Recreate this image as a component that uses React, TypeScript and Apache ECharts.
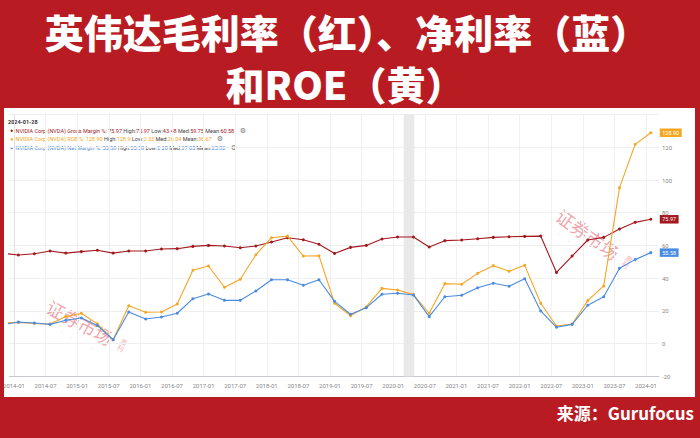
import React, { useEffect, useRef } from 'react';
import * as echarts from 'echarts';

// Fiscal quarter end dates (first point lies just left of the visible range)
const dates = [
  '2013-10-27', '2014-01-26', '2014-04-27', '2014-07-27', '2014-10-26', '2015-01-25', '2015-04-26', '2015-07-26',
  '2015-10-25', '2016-01-31', '2016-05-01', '2016-07-31', '2016-10-30', '2017-01-29', '2017-04-30', '2017-07-30',
  '2017-10-29', '2018-01-28', '2018-04-29', '2018-07-29', '2018-10-28', '2019-01-27', '2019-04-28', '2019-07-28',
  '2019-10-27', '2020-01-26', '2020-04-26', '2020-07-26', '2020-10-25', '2021-01-31', '2021-05-02', '2021-08-01',
  '2021-10-31', '2022-01-30', '2022-05-01', '2022-07-31', '2022-10-30', '2023-01-29', '2023-04-30', '2023-07-30',
  '2023-10-29', '2024-01-28',
];
const grossMargin = [
  55.2, 54.1, 54.9, 56.6, 55.3, 56.2, 57.0, 55.3, 56.6, 56.6, 57.8, 58.0, 59.4, 60.0, 59.6, 58.6,
  59.6, 62.1, 64.7, 63.5, 60.7, 55.1, 58.8, 60.0, 63.9, 65.1, 65.1, 59.0, 62.9, 63.3, 64.1, 64.9,
  65.3, 65.5, 65.7, 43.48, 53.5, 63.3, 64.9, 70.0, 74.1, 75.97,
];
const roe = [
  12.5, 12.9, 12.3, 11.9, 16.5, 18.5, 12.0, 2.33, 23.1, 19.1, 19.3, 24.2, 44.8, 47.4, 34.4, 39.3,
  54.3, 64.7, 65.7, 53.5, 53.7, 24.6, 17.0, 22.5, 33.7, 32.7, 29.9, 18.5, 36.6, 36.2, 42.9, 47.6,
  44.2, 47.8, 24.6, 10.7, 11.9, 26.2, 35.2, 95.3, 121.8, 128.9,
];
const netMargin = [
  11.5, 13.1, 12.5, 11.7, 14.2, 15.6, 11.0, 2.28, 19.3, 15.0, 16.2, 18.5, 27.4, 30.3, 26.4, 26.4,
  32.1, 39.0, 39.0, 35.6, 39.0, 25.8, 17.9, 21.9, 30.1, 30.7, 29.7, 16.4, 28.6, 29.5, 34.1, 36.8,
  35.0, 39.6, 19.9, 9.9, 11.7, 23.4, 28.6, 46.0, 51.3, 55.58,
];
const xTickLabels = [
  '2014-01', '2014-07', '2015-01', '2015-07', '2016-01', '2016-07', '2017-01', '2017-07', '2018-01', '2018-07',
  '2019-01', '2019-07', '2020-01', '2020-07', '2021-01', '2021-07', '2022-01', '2022-07', '2023-01', '2023-07', '2024-01',
];
const recession = ['2020-03-01', '2020-05-01'];

const title1 = '英伟达毛利率（红）、净利率（蓝）';
const title2 = '和ROE（黄）';
const sourceText = '来源：Gurufocus';
const asOf = '2024-01-28';
const seriesNames = ['NVIDIA Corp (NVDA) Gross Margin %', 'NVIDIA Corp (NVDA) ROE %', 'NVIDIA Corp (NVDA) Net Margin %'];
const seriesLast = ['75.97', '128.90', '55.58'];
const seriesHigh = ['75.97', '128.9', '55.58'];
const seriesLow = ['43.48', '2.33', '2.28'];
const seriesMed = ['59.75', '26.04', '27.05'];
const seriesMean = ['60.58', '36.67', '25.82'];

const RED = '#b81c22';
const C_GROSS = '#a3191f';
const C_ROE = '#f5a623';
const C_NET = '#4a8be0';
const colors = [C_GROSS, C_ROE, C_NET];

function toMonths(d: string): number {
  const [y, m, dd] = d.split('-').map(Number);
  return (y - 2014) * 12 + (m - 1) + (dd - 1) / 30;
}

export default function App() {
  const ref = useRef<HTMLDivElement>(null);
  useEffect(() => {
    if (!ref.current) return;
    const chart = echarts.init(ref.current, undefined, { renderer: 'svg' });
    const tickVals = xTickLabels.map((s) => toMonths(s + '-01'));
    const lookup: Record<string, string> = {};
    tickVals.forEach((v, i) => (lookup[String(v)] = xTickLabels[i]));
    const mk = (arr: number[]) => dates.map((d, i) => [toMonths(d), arr[i]]);
    const values = [grossMargin, roe, netMargin];

    const series: any[] = values.map((arr, i) => ({
      type: 'line',
      name: seriesNames[i],
      data: mk(arr),
      symbol: 'circle',
      symbolSize: 3,
      color: colors[i],
      lineStyle: { width: 1.1, color: colors[i] },
      itemStyle: { color: colors[i] },
      z: 3 + i,
      endLabel: {
        show: true,
        formatter: (p: any) => Number(p.value[1]).toFixed(2),
        backgroundColor: colors[i],
        color: '#fff',
        fontSize: 5.5,
        fontFamily: 'Roboto',
        padding: [1.5, 2.5, 1, 2.5],
        distance: 9,
      },
    }));
    series[0].markArea = {
      silent: true,
      itemStyle: { color: '#e9e9e9', opacity: 1 },
      data: [[{ xAxis: toMonths(recession[0]) }, { xAxis: toMonths(recession[1]) }]],
      z: 1,
    };

    const infoRows: any[] = seriesNames.map((n, i) => {
      const y = 130.7 + i * 8.7;
      return [
        { type: 'circle', shape: { cx: 11.7, cy: y, r: 1.2 }, style: { fill: colors[i] } },
        {
          type: 'text',
          x: 15.5,
          y,
          style: {
            text:
              `{c|${n}: ${seriesLast[i]}} {k|High:}{c|${seriesHigh[i]}} {k|Low:}{c|${seriesLow[i]}} ` +
              `{k|Med:}{c|${seriesMed[i]}} {k|Mean:}{c|${seriesMean[i]}}`,
            verticalAlign: 'middle',
            fontSize: 5.5,
            fontFamily: 'Roboto',
            rich: {
              c: { fill: colors[i], fontSize: 5.5, fontFamily: 'Roboto' },
              k: { fill: '#444', fontSize: 5.5, fontFamily: 'Roboto' },
            },
          },
        },
      ];
    }).flat();
    const gearX = [243, 220, 234];
    const gears = gearX.map((gx, i) => ({
      type: 'text',
      x: gx,
      y: 130.7 + i * 8.7,
      style: { text: '⚙', fontSize: 7, fill: '#777', fontFamily: 'DejaVu Sans', verticalAlign: 'middle', align: 'center' },
    }));

    const wm = (x: number, y: number, rot: number) => ({
      type: 'group',
      x,
      y,
      rotation: rot,
      silent: true,
      z: 50,
      children: [
        {
          type: 'text',
          x: 0,
          y: 0,
          style: {
            text: '证券市场',
            fontSize: 18,
            fontFamily: 'Noto Sans CJK SC',
            fill: 'rgba(226,86,98,0.55)',
            align: 'center',
            verticalAlign: 'middle',
            letterSpacing: 2,
          },
        },
        {
          type: 'text',
          x: 48,
          y: 0,
          style: {
            text: '周\n刊',
            fontSize: 7,
            fontFamily: 'Noto Sans CJK SC',
            fill: 'rgba(226,86,98,0.55)',
            align: 'center',
            verticalAlign: 'middle',
          },
        },
        {
          type: 'text',
          x: 0,
          y: 17,
          style: {
            text: '·    ·    ·    ·    ·',
            fontSize: 8,
            fill: 'rgba(226,86,98,0.45)',
            align: 'center',
            verticalAlign: 'middle',
          },
        },
      ],
    });

    chart.setOption({
      animation: false,
      backgroundColor: '#ffffff',
      grid: { left: 4, right: 41, top: 114.6, bottom: 61.8 },
      xAxis: {
        type: 'value',
        min: -0.866,
        max: 122.46,
        axisLine: { show: true, onZero: false, lineStyle: { color: '#c8c8d0', width: 1 } },
        axisTick: { show: false, customValues: tickVals },
        axisLabel: {
          customValues: tickVals,
          formatter: (v: number) => lookup[String(v)] ?? '',
          fontSize: 6,
          color: '#888',
          margin: 6,
          fontFamily: 'Roboto',
          alignMinLabel: 'center',
          alignMaxLabel: 'center',
        },
        splitLine: { show: true, lineStyle: { color: '#f0f0f0', width: 1 } },
      },
      yAxis: {
        type: 'value',
        position: 'right',
        min: -20,
        max: 140,
        interval: 20,
        axisLine: { show: true, lineStyle: { color: '#e2e2e2' } },
        axisTick: { show: false },
        axisLabel: {
          fontSize: 6,
          color: '#888',
          margin: 3,
          padding: [0, 0, 5, 0],
          fontFamily: 'Roboto',
          formatter: (v: number) => (v === 140 ? '' : String(v)),
        },
        splitLine: { show: true, lineStyle: { color: '#efefef', width: 1 } },
      },
      series,
      graphic: [
        ...infoRows,
        ...gears,
        {
          type: 'text',
          x: 8,
          y: 122.3,
          style: { text: asOf, fontSize: 5.5, fontWeight: 'bold', fill: '#333', fontFamily: 'Roboto', verticalAlign: 'middle' },
        },
        wm(80, 322, -0.5),
        wm(588, 234, -0.62),
        // frame
        { type: 'rect', z: 100, shape: { x: 0, y: 0, width: 700, height: 108 }, style: { fill: RED } },
        { type: 'rect', z: 100, shape: { x: 0, y: 397, width: 700, height: 41 }, style: { fill: RED } },
        { type: 'rect', z: 100, shape: { x: 0, y: 0, width: 4, height: 438 }, style: { fill: RED } },
        { type: 'rect', z: 100, shape: { x: 695, y: 0, width: 5, height: 438 }, style: { fill: RED } },
        {
          type: 'text',
          z: 101,
          x: 347,
          y: 31,
          style: {
            text: title1,
            fontSize: 39,
            fontWeight: 900,
            fontFamily: 'Noto Sans CJK SC',
            fill: '#ffffff',
            align: 'center',
            verticalAlign: 'middle',
          },
        },
        {
          type: 'text',
          z: 101,
          x: 345,
          y: 83,
          style: {
            text: title2,
            fontSize: 39,
            fontWeight: 900,
            fontFamily: 'Noto Sans CJK SC',
            fill: '#ffffff',
            align: 'center',
            verticalAlign: 'middle',
          },
        },
        {
          type: 'text',
          z: 101,
          x: 694,
          y: 412,
          style: {
            text: sourceText,
            fontSize: 17,
            fontWeight: 'bold',
            fontFamily: 'Noto Sans CJK SC',
            fill: '#ffffff',
            align: 'right',
            verticalAlign: 'middle',
          },
        },
      ],
    });
    return () => chart.dispose();
  }, []);
  return <div ref={ref} style={{ position: 'absolute', left: 0, top: 0, width: 700, height: 438 }} />;
}
